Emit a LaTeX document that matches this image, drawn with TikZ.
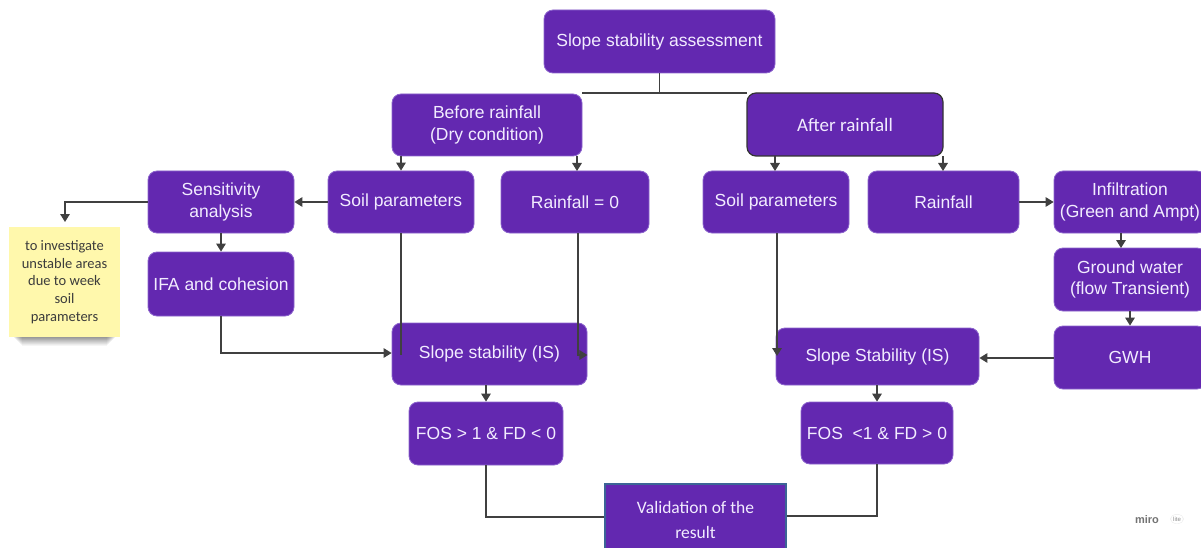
\documentclass[tikz,border=0pt]{standalone}
\usepackage{fontspec}
\setmainfont{Liberation Sans}
\newfontfamily\calib{Carlito}
\usetikzlibrary{arrows.meta}
\definecolor{boxpurple}{RGB}{99,40,176}
\definecolor{boxedge}{RGB}{140,100,205}
\definecolor{boxtext}{RGB}{242,236,255}
\definecolor{linegray}{RGB}{64,64,64}
\definecolor{notey}{RGB}{255,248,172}
\definecolor{notetext}{RGB}{60,60,60}
\definecolor{valedge}{RGB}{60,100,150}
\tikzset{
  pbox/.style={rectangle, rounded corners=9pt, fill=boxpurple, draw=boxedge, line width=0.8pt,
    text=boxtext, align=center, inner sep=0pt,
    font=\fontsize{17.5}{21.5}\selectfont},
  conn/.style={draw=linegray, line width=1.5pt},
  arr/.style={conn, -{Triangle[width=9.5pt,length=8pt]}},
}
\begin{document}
\begin{tikzpicture}[x=1pt,y=-1pt]
\useasboundingbox (0,0) rectangle (1201,548);
\fill[white] (0,0) rectangle (1201,548);

% top connector (behind boxes)
\coordinate (tj) at (659.5,93);
\draw[conn] (582,93) -- (747,93);

% boxes
\node[pbox, minimum width=231, minimum height=63] (top) at (659.5,41.5) {Slope stability assessment};
\draw[conn] (top.south) -- (tj);
\node[pbox, minimum width=190, minimum height=62] (before) at (487,125) {Before rainfall\\(Dry condition)};
\node[pbox, minimum width=196, minimum height=63, draw=black!80, line width=1.2pt,
      font=\calib\fontsize{19}{22}\selectfont] (after) at (845,124.5) {After rainfall};

\node[pbox, minimum width=146, minimum height=62] (sens) at (221,202) {Sensitivity\\analysis};
\node[pbox, minimum width=146, minimum height=62] (soilL) at (401,202) {Soil parameters};
\node[pbox, minimum width=148, minimum height=62] (rain0) at (575,202) {Rainfall = 0};
\node[pbox, minimum width=146, minimum height=62] (soilR) at (776,202) {Soil parameters};
\node[pbox, minimum width=151, minimum height=62] (rain) at (943.5,202) {Rainfall};
\node[pbox, minimum width=152, minimum height=62] (infil) at (1130,202) {Infiltration\\(Green and Ampt)};
\node[pbox, minimum width=152, minimum height=63] (gw) at (1130,279.5) {Ground water\\(flow Transient)};
\node[pbox, minimum width=152, minimum height=63] (gwh) at (1130,357.5) {GWH};
\node[pbox, minimum width=146, minimum height=64] (ifa) at (221,284) {IFA and cohesion};
\node[pbox, minimum width=195, minimum height=62] (ssL) at (489.5,354) {Slope stability (IS)};
\node[pbox, minimum width=203, minimum height=57] (ssR) at (877.5,356.5) {Slope Stability (IS)};
\node[pbox, minimum width=154, minimum height=63] (fosL) at (486,433.5) {FOS > 1 \& FD < 0};
\node[pbox, minimum width=152, minimum height=62] (fosR) at (877,433) {FOS\ \ <1 \& FD > 0};
\node[pbox, rounded corners=0pt, draw=valedge, line width=1.2pt, minimum width=181, minimum height=80,
      font=\calib\fontsize{17.5}{25}\selectfont, text=boxtext] (valid) at (695.5,524) {};
\node[text=boxtext, align=center, inner sep=0pt, font=\calib\fontsize{17.5}{25}\selectfont]
      (validtxt) at (695.5,520) {Validation of the\\result};

% sticky note with shadow
\foreach \i/\o in {0/0.06,1/0.06,2/0.06,3/0.06,4/0.05,5/0.05,6/0.05,7/0.04,8/0.04}{
  \fill[black, opacity=\o] (14+\i,300) rectangle (115-\i,338+\i);
}
\node[rectangle, fill=notey, minimum width=111, minimum height=110, inner sep=0pt,
      text=notetext, align=center, font=\calib\fontsize{14.5}{17.6}\selectfont] (note) at (64.5,282)
      {to investigate\\unstable areas\\due to week\\soil\\parameters};

% connectors
\draw[arr] (before.south -| soilL) -- (soilL.north);
\draw[arr] (577,156) -- (577,171);
\draw[arr] (775,156) -- (775,171);
\draw[arr] (943,156) -- (943,171);

\draw[arr] (soilL.west) -- (sens.east);
\coordinate (nt) at (65,202);
\draw[arr] (sens.west) -- (nt) -- (65,222);
\draw[arr] (sens.south) -- (ifa.north);
\coordinate (ifac) at (221,353);
\draw[arr] (ifa.south) -- (ifac) -- (ssL.west |- ifac);
\draw[conn] (soilL.south) -- (401,355);
\coordinate (r0c) at (578,355);
\draw[arr] (578,233) -- (r0c) -- (ssL.east |- r0c);
\draw[arr] (777,233) -- (777,356);

\draw[arr] (rain.east) -- (infil.west);
\draw[arr] (1121,233) -- (1121,248);
\draw[arr] (gw.south) -- (gwh.north);
\draw[arr] (gwh.west |- 0,358) -- (ssR.east |- 0,358);

\draw[arr] (486,385) -- (fosL.north);
\draw[arr] (ssR.south -| fosR) -- (fosR.north);

\coordinate (vl) at (486,517);
\coordinate (vr) at (877,516);
\draw[conn] (fosL.south) -- (vl) -- (valid.west |- vl);
\draw[conn] (fosR.south) -- (vr) -- (valid.east |- vr);

% miro logo
\node[text=black!55, font=\bfseries\fontsize{11}{12}\selectfont, inner sep=0pt] (miro) at (1147,520) {miro};
\node[fill=white, draw=black!8, rounded corners=5pt, text=black!45, font=\fontsize{6}{7}\selectfont,
      inner sep=2.5pt] (lite) at (1177,519) {lite};
\end{tikzpicture}
\end{document}
